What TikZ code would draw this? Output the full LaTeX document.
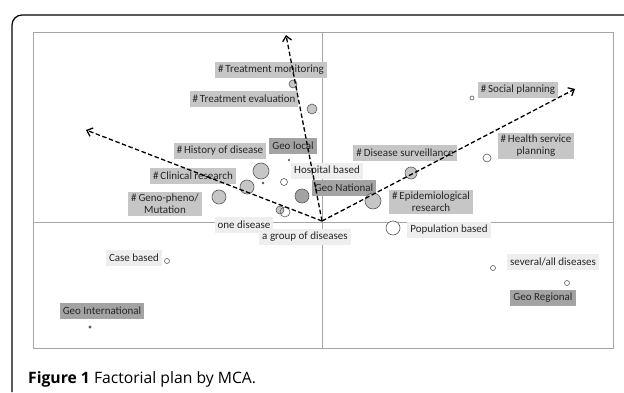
\documentclass[tikz,border=0pt]{standalone}
\usepackage{fontspec}
\setmainfont{Carlito}
\newfontfamily\capfont{Open Sans}
\usepackage{xcolor}
\definecolor{frameGray}{HTML}{A6A6A6}
\definecolor{hashFill}{HTML}{C6C6C6}
\definecolor{geoFill}{HTML}{A3A3A3}
\definecolor{plainFill}{HTML}{EEEEEE}
\definecolor{labelText}{HTML}{262626}
\definecolor{dotLine}{HTML}{595959}
\usetikzlibrary{arrows.meta,positioning}
\tikzset{%
  labelBox/.style={%
    rectangle,
    inner xsep=3pt,
    inner ysep=2pt,
    minimum height=16pt,
    align=center,
    text=labelText,
    font=\fontsize{11}{12}\selectfont
  },
  hashBox/.style={labelBox, fill=hashFill},
  geoBox/.style={labelBox, fill=geoFill},
  plainBox/.style={labelBox, fill=plainFill},
  dotMark/.style={%
    circle,
    draw=dotLine,
    line width=0.6pt,
    fill=hashFill,
    inner sep=0pt
  },
  axisArrow/.style={%
    -{Straight Barb[length=5pt,width=9pt]},
    line width=1.3pt,
    dash pattern=on 4.5pt off 2.5pt
  }
}

\begin{document}
\begin{tikzpicture}[x=1pt,y=-1pt]
  \useasboundingbox (0,0) rectangle (624,393);
  % outer frame
  \draw[line width=1.2pt, rounded corners=10pt] (624,15) -- (12,15) -- (12,392);
  % plot area and axes
  \draw[frameGray, line width=0.9pt] (33,32) rectangle (613,348);
  \draw[frameGray, line width=0.9pt] (322.5,32) -- (322.5,348);
  \draw[frameGray, line width=0.9pt] (33,222.5) -- (613,222.5);

  % labels
  \node[hashBox] (treatMon) at (271,70) {\#\,Treatment monitoring};
  \node[hashBox] (treatEval) at (244,99) {\#\,Treatment evaluation};
  \node[hashBox] (history) at (220,151) {\#\,History of disease};
  \node[geoBox] (geoLocal) at (293,146) {Geo local};
  \node[hashBox] (clinical) at (193,176) {\#\,Clinical research};
  \node[hashBox] (geno) at (165,204) {\#\,Geno-pheno/\\Mutation};
  \node[plainBox] (hospital) at (327,171) {Hospital based};
  \node[geoBox] (geoNational) at (344,188) {Geo National};
  \node[plainBox] (oneDis) at (244,225) {one disease};
  \node[plainBox] (groupDis) at (305,237) {a group of diseases};
  \node[hashBox] (surveil) at (405,153) {\#\,Disease surveillance};
  \node[hashBox] (social) at (518,90) {\#\,Social planning};
  \node[hashBox] (healthServ) at (536,146) {\#\,Health service\\planning};
  \node[hashBox] (epidem) at (431,202) {\#\,Epidemiological\\research};
  \node[plainBox] (popBased) at (449,230) {Population based};
  \node[plainBox] (severalDis) at (553,262) {several/all diseases};
  \node[geoBox] (geoRegional) at (543,298) {Geo Regional};
  \node[plainBox] (caseBased) at (134,258) {Case based};
  \node[geoBox] (geoInternat) at (102,311) {Geo International};

  % points
  \node[dotMark, minimum size=8pt] (ptTreatMon) at (293,84) {};
  \node[dotMark, minimum size=10pt] (ptTreatEval) at (312,109) {};
  \node[dotMark, minimum size=4pt, fill=white] (ptSocial) at (472,98) {};
  \node[dotMark, minimum size=8pt, fill=white] (ptHealth) at (487,158) {};
  \node[dotMark, minimum size=12pt] (ptSurv) at (411,173) {};
  \node[dotMark, minimum size=16pt] (ptEpid) at (373,201) {};
  \node[dotMark, minimum size=14pt, fill=white] (ptPop) at (393,228) {};
  \node[dotMark, minimum size=5pt, fill=white] (ptSeveral) at (493,268) {};
  \node[dotMark, minimum size=5pt, fill=white] (ptRegional) at (567,283) {};
  \node[dotMark, minimum size=2.5pt, fill=dotLine] (ptInternat) at (90,327) {};
  \node[dotMark, minimum size=5pt, fill=white] (ptCase) at (167,261) {};
  \node[dotMark, minimum size=14pt] (ptGeno) at (219,197) {};
  \node[dotMark, minimum size=14pt] (ptClinical) at (247,187) {};
  \node[dotMark, minimum size=16pt] (ptHistory) at (261,171) {};
  \node[dotMark, minimum size=2pt, fill=dotLine] (ptSmallA) at (263,183) {};
  \node[dotMark, minimum size=1.5pt, fill=dotLine] (ptSmallB) at (289,160) {};
  \node[dotMark, minimum size=7pt, fill=white] (ptHospital) at (284,182) {};
  \node[dotMark, minimum size=14pt, fill=geoFill] (ptNational) at (302,196) {};
  \node[dotMark, minimum size=8pt] (ptOneA) at (280,210) {};
  \node[dotMark, minimum size=10pt, fill=none] (ptOneB) at (285,212) {};

  % factor arrows
  \coordinate (origin) at (322,221);
  \coordinate (tipUp) at (286,35);
  \coordinate (tipLeft) at (86,130);
  \coordinate (tipRight) at (575,89);
  \draw[axisArrow] (origin) -- (tipUp);
  \draw[axisArrow] (origin) -- (tipLeft);
  \draw[axisArrow] (origin) -- (tipRight);

  % caption
  \node[anchor=base west, inner sep=0pt, font=\capfont\fontsize{15.7}{18}\selectfont] (caption) at (28,383)
    {\textbf{Figure 1} Factorial plan by MCA.};
\end{tikzpicture}
\end{document}
